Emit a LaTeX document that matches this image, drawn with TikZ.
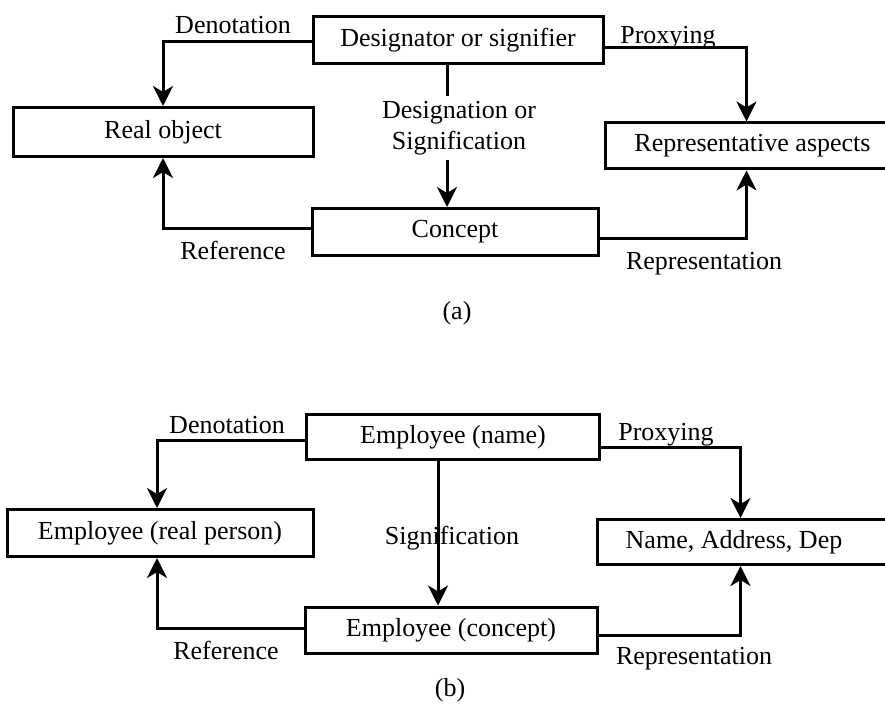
\documentclass[tikz,border=0pt]{standalone}
\usepackage{fontspec}
\setmainfont{Liberation Serif}
\usetikzlibrary{arrows.meta}
\begin{document}
\begin{tikzpicture}[x=1pt,y=-1pt,
  every node/.style={font=\fontsize{26}{31}\selectfont, inner sep=0pt},
  box/.style={draw, line width=3pt},
  plain/.style={line width=3pt},
  conn/.style={line width=3pt, -{Stealth[length=20pt,width=20pt,inset=6pt]}}]
\useasboundingbox (0,0) rectangle (885,722);

% ---------- (a) general scheme ----------
\node[box, minimum width=290, minimum height=47] (des) at (458,40) {Designator or signifier};
\node[box, minimum width=300, minimum height=49] (real) at (163,132) {Real object};
\node[box, minimum width=286, minimum height=47] (con) at (455,232) {Concept};
\node[box, minimum width=295, minimum height=46] (rep) at (752.5,146) {Representative aspects};

\node[align=center, inner ysep=5pt] (dsig) at (459,128) {Designation or\\Signification};
\coordinate (dx) at ([xshift=-11pt]des.south);
\draw[plain] (dx) -- (dx |- dsig.north);
\draw[conn] (dx |- dsig.south) -- ([xshift=-8pt]con.north);

\draw[conn] ([yshift=-2pt]des.west) -| (real.north);
\draw[conn] ([yshift=4pt]con.west) -| (real.south);
\draw[conn] ([yshift=-8pt]des.east) -| ([xshift=-6pt]rep.north);
\draw[conn] ([yshift=-6pt]con.east) -| ([xshift=-6pt]rep.south);

\node (denA) at (233,25) {Denotation};
\node (proA) at (668,38) {Proxying};
\node (refA) at (233,250) {Reference};
\node (rpsA) at (704,264) {Representation};
\node (capA) at (457,313) {(a)};

% ---------- (b) employee example ----------
\node[box, minimum width=293, minimum height=45] (nam) at (453,437) {Employee (name)};
\node[box, minimum width=306, minimum height=47] (per) at (160,533) {Employee (real person)};
\node[box, minimum width=292, minimum height=46] (eco) at (451,630) {Employee (concept)};
\node[box, minimum width=303, minimum height=45] (nad) at (748.5,542) {};
\node (nadt) at (734,542) {Name, Address, Dep};

\coordinate (sx) at ([xshift=-15pt]nam.south);
\draw[conn] (sx) -- ([xshift=-13pt]eco.north);
\node (sig) at (452,538) {Signification};

\draw[conn] ([yshift=-3pt]nam.west) -| ([xshift=-3pt]per.north);
\draw[conn] ([yshift=2pt]eco.west) -| ([xshift=-3pt]per.south);
\draw[conn] ([yshift=-10pt]nam.east) -| ([xshift=-8pt]nad.north);
\draw[conn] ([yshift=-5pt]eco.east) -| ([xshift=-8pt]nad.south);

\node (denB) at (227,425) {Denotation};
\node (proB) at (666,435) {Proxying};
\node (refB) at (226,650) {Reference};
\node (rpsB) at (694,659) {Representation};
\node (capB) at (450,690) {(b)};
\end{tikzpicture}
\end{document}
